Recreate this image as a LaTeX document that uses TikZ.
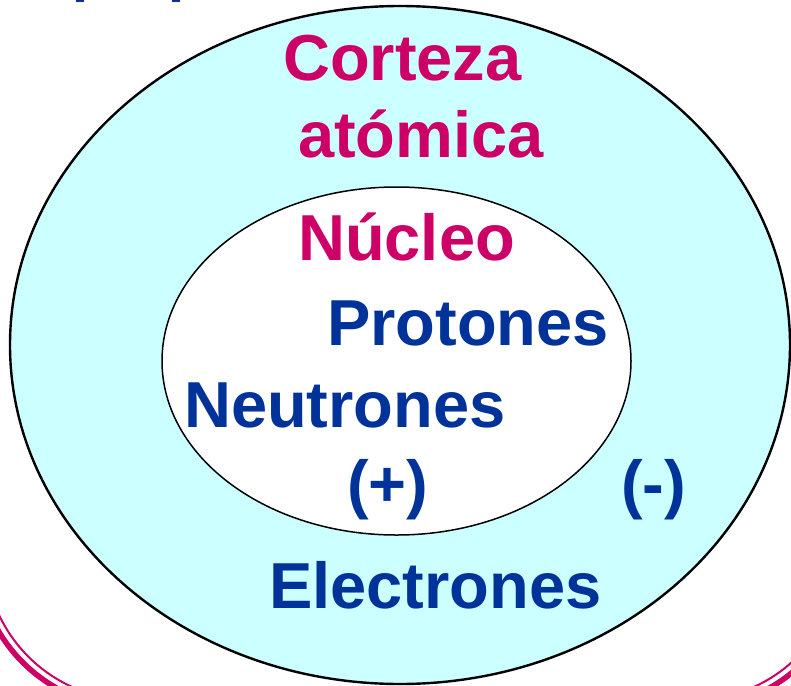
\documentclass[tikz,border=0pt]{standalone}
\usepackage{fontspec}
\setmainfont{Liberation Sans}
\usepackage{xcolor}
\definecolor{shellcyan}{HTML}{CCFFFF}
\definecolor{labelpink}{HTML}{CC0066}
\definecolor{labelblue}{HTML}{003399}
\tikzset{every node/.append style={font=\bfseries\fontsize{65}{65}\selectfont, inner sep=0pt, anchor=base west}}

\begin{document}
\begin{tikzpicture}[x=1pt, y=-1pt]
    \useasboundingbox (0,0) rectangle (791,685);
    \clip (0,0) rectangle (791,685);
    % frame of the slide, only its corners show
    \draw[labelpink, line width=2pt, rounded corners=148pt] (-15,-200) rectangle (841,700);
    \draw[labelpink, line width=5.5pt, rounded corners=156pt] (-23,-208) rectangle (849,708);
    \fill[labelblue] (76,0) rectangle (84,2.5);
    \fill[labelblue] (172,0) rectangle (180,2.5);
    % shell and nucleus
    \draw[line width=2.4pt, fill=shellcyan] (400,345) ellipse (390 and 339);
    \draw[line width=1.5pt, fill=white] (396.5,361) ellipse (234.5 and 174);
    \node[text=labelpink] (corteza) at (283,80) {Corteza};
    \node[text=labelpink] (atomica) at (298,157) {atómica};
    \node[text=labelpink] (nucleo) at (298,260) {Núcleo};
    \node[text=labelblue] (protones) at (327,345) {Protones};
    \node[text=labelblue] (neutrones) at (184,427) {Neutrones};
    \node[text=labelblue] (plus) at (347,506) {(+)};
    \node[text=labelblue] (minus) at (621,506) {(-)};
    \node[text=labelblue] (electrones) at (269,608) {Electrones};
\end{tikzpicture}
\end{document}
